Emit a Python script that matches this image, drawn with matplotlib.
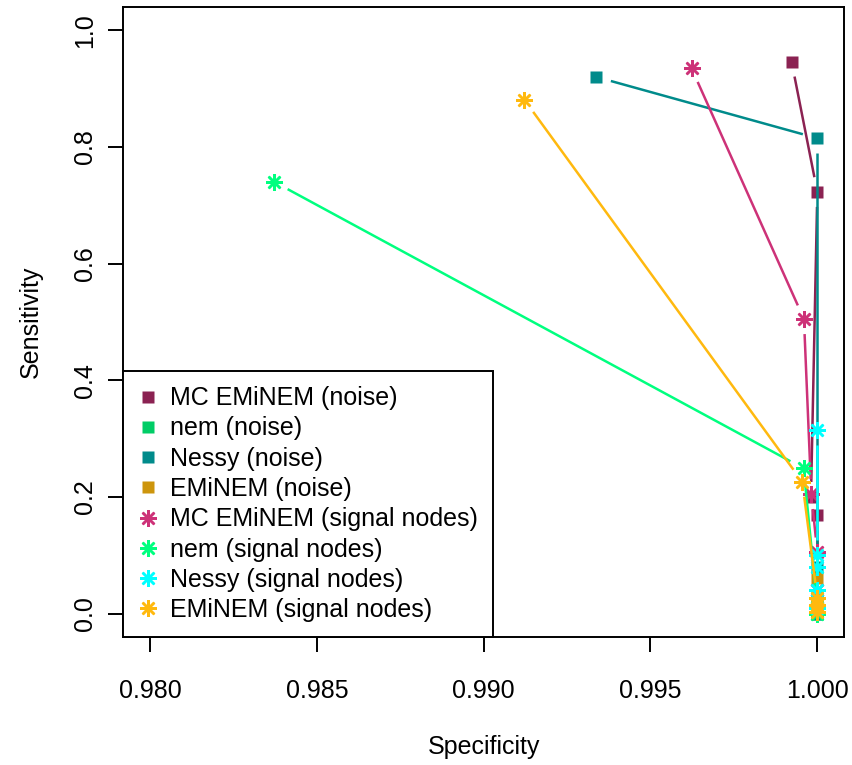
import numpy as np
import matplotlib
matplotlib.use("Agg")
import matplotlib.pyplot as plt

plt.rcParams['font.family'] = ['Liberation Sans', 'DejaVu Sans']

# specificity / sensitivity per method
mc_noise_x = [0.99923, 1.0, 0.99981, 1.0, 1.0]
mc_noise_y = [0.946, 0.723, 0.200, 0.169, 0.010]
nem_noise_x = [1.0, 1.0, 1.0]
nem_noise_y = [0.012, 0.005, 0.0]
nessy_noise_x = [0.99338, 1.0, 1.0, 1.0, 1.0]
nessy_noise_y = [0.920, 0.815, 0.080, 0.030, 0.0]
em_noise_x = [1.0, 1.0, 1.0]
em_noise_y = [0.062, 0.020, 0.005]

mc_sig_x = [0.99623, 0.99960, 0.99982, 1.0, 1.0]
mc_sig_y = [0.935, 0.505, 0.205, 0.105, 0.040]
nem_sig_x = [0.98373, 0.99959, 1.0, 1.0]
nem_sig_y = [0.740, 0.249, 0.012, 0.0]
nessy_sig_x = [1.0, 1.0, 1.0, 1.0, 1.0]
nessy_sig_y = [0.315, 0.100, 0.080, 0.040, 0.010]
em_sig_x = [0.99122, 0.99955, 1.0, 1.0, 1.0]
em_sig_y = [0.881, 0.226, 0.027, 0.015, 0.003]

labels = ['MC EMiNEM (noise)', 'nem (noise)', 'Nessy (noise)', 'EMiNEM (noise)',
          'MC EMiNEM (signal nodes)', 'nem (signal nodes)', 'Nessy (signal nodes)',
          'EMiNEM (signal nodes)']
colors = ['#8B2252', '#00CD66', '#008B8B', '#CD950C',
          '#CD3278', '#00FF7F', '#00FFFF', '#FFB90F']
xs = [mc_noise_x, nem_noise_x, nessy_noise_x, em_noise_x,
      mc_sig_x, nem_sig_x, nessy_sig_x, em_sig_x]
ys = [mc_noise_y, nem_noise_y, nessy_noise_y, em_noise_y,
      mc_sig_y, nem_sig_y, nessy_sig_y, em_sig_y]

STAR = (8, 2, 0)

fig = plt.figure(figsize=(8.53, 7.65), dpi=100)
ax = fig.add_axes([123.3/853, 1-637/765, (844-123.3)/853, (637-7)/765])
ax.set_xlim(0.9792, 1.0008)
ax.set_ylim(-0.04, 1.04)


def gapped(ax, x, y, color, gap=15):
    # R type="b": lines stop short of the points
    pts = ax.transData.transform(np.column_stack([x, y]))
    inv = ax.transData.inverted()
    for p0, p1 in zip(pts[:-1], pts[1:]):
        d = p1 - p0
        L = np.hypot(*d)
        if L <= 2*gap:
            continue
        u = d/L
        seg = inv.transform([p0 + u*gap, p1 - u*gap])
        ax.plot(seg[:, 0], seg[:, 1], color=color, lw=1.8, solid_capstyle='butt')


handles = []
for i in range(8):
    gapped(ax, xs[i], ys[i], colors[i])
    if i < 4:
        h, = ax.plot(xs[i], ys[i], ls='none', marker='s', ms=8, color=colors[i], mec='none')
    else:
        h, = ax.plot(xs[i], ys[i], ls='none', marker=STAR, ms=12, mew=1.8, color=colors[i])
    handles.append(h)

ax.set_xticks(np.arange(0.980, 1.0001, 0.005))
ax.set_xticklabels(['0.980', '0.985', '0.990', '0.995', '1.000'])
ax.set_yticks(np.arange(0, 1.01, 0.2))
ax.set_yticklabels(['0.0', '0.2', '0.4', '0.6', '0.8', '1.0'], rotation=90, va='center')
ax.tick_params(labelsize=18, length=11, width=1.4, direction='out')
ax.tick_params(axis='x', pad=19)
ax.tick_params(axis='y', pad=8)
for s in ax.spines.values():
    s.set_linewidth(1.4)

ax.set_xlabel('Specificity', fontsize=18, labelpad=23)
ax.set_ylabel('Sensitivity', fontsize=18, labelpad=22)

leg = ax.legend(handles, labels, loc='lower left', fontsize=18, frameon=True,
                fancybox=False, edgecolor='black', framealpha=1, borderaxespad=0,
                handlelength=0.75, handletextpad=0.53, borderpad=0.6, labelspacing=0.25)
leg.get_frame().set_linewidth(1.4)

fig.savefig('out.png', dpi=100)
